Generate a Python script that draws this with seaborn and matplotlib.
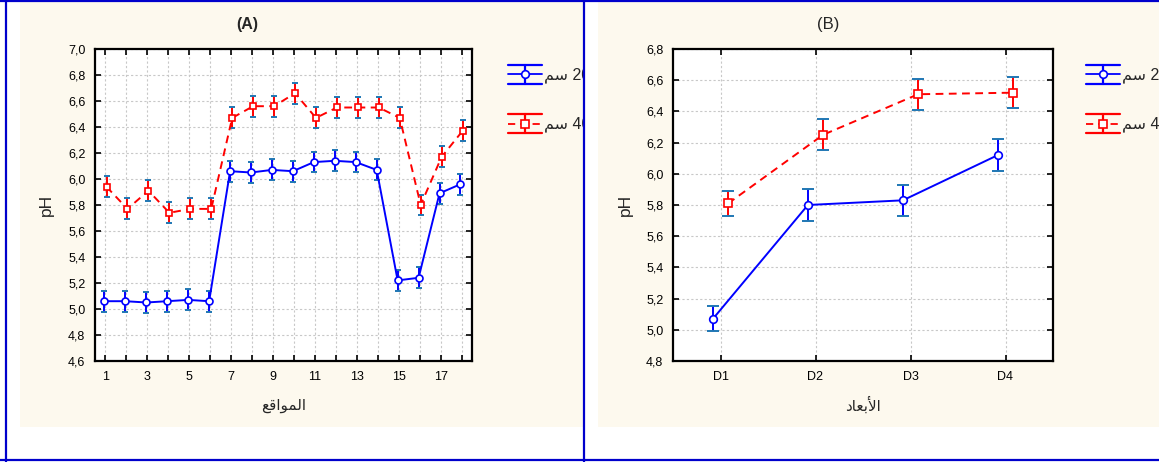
import numpy as np
import pandas as pd
import matplotlib
matplotlib.use("Agg")
import matplotlib.pyplot as plt
import seaborn as sns
from matplotlib.lines import Line2D
from matplotlib.patches import Rectangle
from matplotlib.legend_handler import HandlerBase
from matplotlib.ticker import FuncFormatter, MultipleLocator, FixedLocator

# ---------------- data ----------------
sites = list(range(1, 19))
site_tick_labels = [str(s) if s % 2 == 1 else "" for s in sites]
ph20_sites = [5.06, 5.06, 5.05, 5.06, 5.07, 5.06, 6.06, 6.05, 6.07, 6.06,
              6.13, 6.14, 6.13, 6.07, 5.22, 5.24, 5.89, 5.96]
err20_sites = [0.08] * 18
ph40_sites = [5.94, 5.77, 5.91, 5.74, 5.77, 5.77, 6.47, 6.56, 6.56, 6.66,
              6.47, 6.55, 6.55, 6.55, 6.47, 5.80, 6.17, 6.37]
err40_sites = [0.08] * 18

dims = ["D1", "D2", "D3", "D4"]
ph20_dims = [5.07, 5.80, 5.83, 6.12]
err20_dims = [0.08, 0.10, 0.10, 0.10]
ph40_dims = [5.81, 6.25, 6.51, 6.52]
err40_dims = [0.08, 0.10, 0.10, 0.10]

# Arabic text in pre-shaped presentation forms, visual (left-to-right) order
depth_labels = ["\uFEE2\uFEB3 20", "\uFEE2\uFEB3 40"]          # سم 20 / سم 40
xlabel_A = "\uFECA\uFED7\uFE8D\uFEEE\uFEE4\uFEDF\uFE8D"          # المواقع
xlabel_B = "\uFEA9\uFE8E\uFECC\uFE91\uFEF7\uFE8D"                # الأبعاد
title_A = "(A)"
title_B = "(B)"

# ---------------- style ----------------
sns.set_style("ticks")
plt.rcParams["font.family"] = ["Liberation Sans", "DejaVu Sans"]

BLUE = "#0000FF"
RED = "#FF0000"
FRAME = "#0000CC"
CREAM = "#FDF9EE"

W, H = 1159, 462
fig = plt.figure(figsize=(W / 100, H / 100), dpi=100)
fig.patch.set_facecolor("white")


def fx(px):
    return px / W


def fy(py):
    return 1 - py / H


# cream panel backgrounds
fig.add_artist(Rectangle((fx(20), fy(427)), fx(583) - fx(20), fy(2) - fy(427),
                         transform=fig.transFigure, facecolor=CREAM,
                         edgecolor="none", zorder=-1))
fig.add_artist(Rectangle((fx(598), fy(427)), fx(1159) - fx(598), fy(2) - fy(427),
                         transform=fig.transFigure, facecolor=CREAM,
                         edgecolor="none", zorder=-1))

axA = fig.add_axes([fx(95), fy(361), fx(472) - fx(95), fy(49) - fy(361)])
axB = fig.add_axes([fx(673), fy(361), fx(1053) - fx(673), fy(49) - fy(361)])


class ErrHandler(HandlerBase):
    def __init__(self, color, marker, ls):
        super().__init__()
        self.color = color
        self.marker = marker
        self.ls = ls

    def create_artists(self, legend, orig_handle, xdescent, ydescent,
                       width, height, fontsize, trans):
        x0 = -xdescent
        x1 = width - xdescent
        xc = (x0 + x1) / 2
        yc = height / 2 - ydescent
        h = 6.8
        arts = [
            Line2D([x0, x1], [yc - h, yc - h], color=self.color, lw=1.6),
            Line2D([x0, x1], [yc + h, yc + h], color=self.color, lw=1.6),
            Line2D([xc, xc], [yc - h, yc + h], color=self.color, lw=1.6),
            Line2D([x0, x1], [yc, yc], color=self.color, lw=1.3, linestyle=self.ls),
            Line2D([xc], [yc], color=self.color, marker=self.marker, ms=5.5,
                   mfc="white", mec=self.color, mew=1.2, linestyle="none"),
        ]
        for a in arts:
            a.set_transform(trans)
        return arts


def comma(v, pos):
    return f"{v:.1f}".replace(".", ",")


def draw_panel(ax, xs, y20, e20, y40, e40, offset, capsize, ms):
    n = len(xs)
    df = pd.DataFrame({
        "x": list(xs) + list(xs),
        "pH": list(y20) + list(y40),
        "err": list(e20) + list(e40),
        "depth": ["20"] * n + ["40"] * n,
    })
    df["xp"] = df["x"] + df["depth"].map({"20": -offset, "40": offset})
    palette = {"20": BLUE, "40": RED}
    for d, err_df in df.groupby("depth"):
        ax.errorbar(err_df["xp"], err_df["pH"], yerr=err_df["err"], fmt="none",
                    ecolor=palette[d], elinewidth=1.4, capsize=capsize,
                    capthick=1.4, zorder=1.5)
    sns.lineplot(data=df, x="xp", y="pH", hue="depth", style="depth",
                 palette=palette, markers={"20": "o", "40": "s"},
                 dashes={"20": "", "40": (4, 2.8)}, errorbar=None,
                 legend=False, sort=False, ax=ax, lw=1.4, ms=ms,
                 mfc="white", mew=1.2, zorder=3)
    for ln in ax.lines:
        ln.set_markeredgecolor(ln.get_color())
        ln.set_markerfacecolor("white")

    ax.set_facecolor("white")
    ax.set_axisbelow(True)
    ax.grid(True, color="#c8c8c8", linestyle=(0, (2, 2)), lw=0.8)
    ax.tick_params(direction="in", top=True, right=True, length=4, width=1.2,
                   labelsize=9, pad=7, colors="black")
    for s in ax.spines.values():
        s.set_linewidth(1.6)
        s.set_color("black")
        s.set_visible(True)
    ax.yaxis.set_major_locator(MultipleLocator(0.2))
    ax.yaxis.set_major_formatter(FuncFormatter(comma))
    ax.set_ylabel("pH", fontsize=12.5)


# Panel A
draw_panel(axA, sites, ph20_sites, err20_sites, ph40_sites, err40_sites,
           offset=0.05, capsize=2.2, ms=5)
axA.set_xlim(0.5, 18.5)
axA.set_ylim(4.6, 7.0)
axA.xaxis.set_major_locator(FixedLocator(sites))
axA.set_xticklabels(site_tick_labels)
axA.set_xlabel(xlabel_A, fontsize=11)
axA.yaxis.set_label_coords(-0.11, 0.5)
axA.xaxis.set_label_coords(0.5, -0.12)

# Panel B
draw_panel(axB, [1, 2, 3, 4], ph20_dims, err20_dims, ph40_dims, err40_dims,
           offset=0.08, capsize=4, ms=5.5)
axB.set_xlim(0.5, 4.5)
axB.set_ylim(4.8, 6.8)
axB.xaxis.set_major_locator(FixedLocator([1, 2, 3, 4]))
axB.set_xticklabels(dims)
axB.set_xlabel(xlabel_B, fontsize=11)
axB.yaxis.set_label_coords(-0.105, 0.5)
axB.xaxis.set_label_coords(0.5, -0.115)

# legends
for ax, lx in ((axA, 508), (axB, 1086)):
    h1, h2 = Line2D([], []), Line2D([], [])
    ax.legend([h1, h2], depth_labels,
              handler_map={h1: ErrHandler(BLUE, "o", "-"),
                           h2: ErrHandler(RED, "s", (0, (4, 2.8)))},
              loc="upper left", bbox_to_anchor=(fx(lx), fy(64)),
              bbox_transform=fig.transFigure, frameon=False, fontsize=11.5,
              handlelength=2.1, handleheight=1.6, handletextpad=0.15,
              labelspacing=1.8, borderpad=0, borderaxespad=0)

# titles
fig.text(fx(247), fy(25), title_A, ha="center", va="center", fontsize=11.5,
         fontweight="bold")
fig.text(fx(828), fy(25), title_B, ha="center", va="center", fontsize=12)

# gap between panels (hides overflowing legend text) and blue frame
fig.add_artist(Rectangle((fx(584), 0), fx(598) - fx(584), 1,
                         transform=fig.transFigure, facecolor="white",
                         edgecolor="none", zorder=3))
for xs_, ys_ in (([fx(6), fx(6)], [0, 1]),
                 ([fx(584), fx(584)], [0, 1]),
                 ([0, 1], [fy(1), fy(1)]),
                 ([0, 1], [fy(460), fy(460)])):
    fig.add_artist(Line2D(xs_, ys_, transform=fig.transFigure, color=FRAME,
                          lw=1.6, zorder=4))

fig.savefig("out.png", dpi=100)
